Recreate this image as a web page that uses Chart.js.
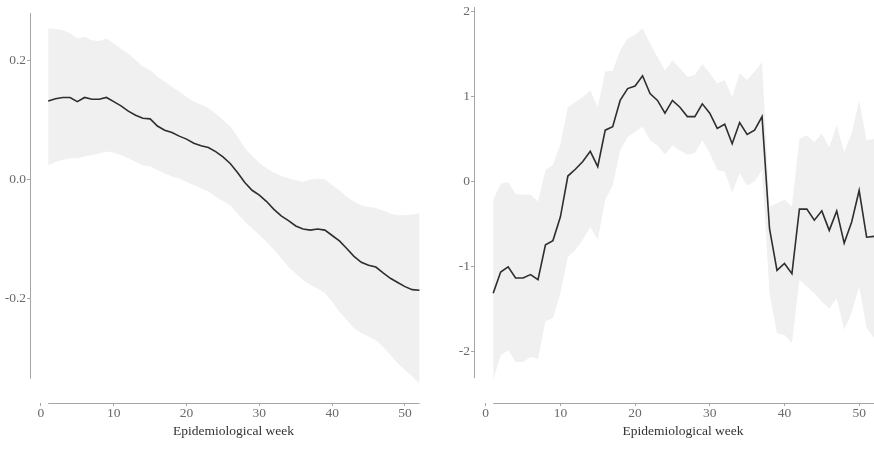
<!DOCTYPE html>
<html><head><meta charset="utf-8">
<script src="https://cdn.jsdelivr.net/npm/chart.js@4"></script>
<style>
html,body{margin:0;padding:0;width:874px;height:450px;overflow:hidden;background:#fff;}
#c1{position:absolute;left:0;top:0;width:437px;height:450px;}
#c2{position:absolute;left:437px;top:0;width:455px;height:450px;}
</style></head><body>
<canvas id="c1" width="437" height="450"></canvas>
<canvas id="c2" width="455" height="450"></canvas>
<script>
const weeks = Array.from({length:52},(_,i)=>i+1);
const xTicks = [0,10,20,30,40,50];
const xTitle = 'Epidemiological week';

const leftMean = [0.132,0.136,0.138,0.138,0.131,0.138,0.135,0.135,0.138,0.131,
  0.124,0.115,0.108,0.103,0.102,0.090,0.083,0.079,0.073,0.068,
  0.061,0.057,0.054,0.047,0.038,0.027,0.012,-0.005,-0.018,-0.026,
  -0.037,-0.050,-0.061,-0.069,-0.078,-0.083,-0.085,-0.083,-0.085,-0.094,
  -0.103,-0.116,-0.129,-0.139,-0.144,-0.147,-0.157,-0.166,-0.173,-0.180,
  -0.185,-0.186];
const leftUpper = [0.254,0.253,0.251,0.246,0.237,0.240,0.234,0.233,0.237,0.229,
  0.220,0.212,0.201,0.190,0.184,0.173,0.165,0.156,0.148,0.139,
  0.131,0.126,0.120,0.111,0.100,0.089,0.072,0.053,0.040,0.028,
  0.019,0.012,0.006,0.002,-0.001,-0.004,0.000,0.002,0.000,-0.009,
  -0.018,-0.029,-0.037,-0.043,-0.046,-0.048,-0.052,-0.057,-0.060,-0.060,
  -0.059,-0.056];
const leftLower = [0.024,0.030,0.033,0.036,0.036,0.039,0.041,0.044,0.047,0.045,
  0.041,0.036,0.030,0.024,0.022,0.016,0.010,0.005,0.002,-0.004,
  -0.009,-0.015,-0.020,-0.029,-0.036,-0.043,-0.057,-0.071,-0.082,-0.093,
  -0.105,-0.118,-0.132,-0.147,-0.158,-0.169,-0.177,-0.183,-0.191,-0.205,
  -0.222,-0.236,-0.250,-0.258,-0.264,-0.270,-0.281,-0.295,-0.309,-0.320,
  -0.331,-0.343];
const leftYTicks = [-0.2,0,0.2];

const rightMean = [-1.32,-1.07,-1.01,-1.14,-1.14,-1.10,-1.16,-0.75,-0.70,-0.42,
  0.06,0.14,0.23,0.35,0.17,0.60,0.64,0.95,1.09,1.12,
  1.24,1.03,0.95,0.80,0.95,0.87,0.76,0.76,0.91,0.80,
  0.62,0.67,0.44,0.69,0.55,0.60,0.76,-0.56,-1.05,-0.97,
  -1.09,-0.33,-0.33,-0.46,-0.35,-0.58,-0.35,-0.73,-0.48,-0.11,
  -0.66,-0.65];
const rightUpper = [-0.22,-0.03,-0.01,-0.15,-0.16,-0.16,-0.24,0.13,0.19,0.44,
  0.87,0.93,0.99,1.07,0.87,1.29,1.30,1.54,1.68,1.72,
  1.80,1.62,1.46,1.30,1.42,1.33,1.23,1.25,1.38,1.27,
  1.15,1.19,0.99,1.27,1.19,1.29,1.40,-0.30,-0.26,-0.22,
  -0.30,0.50,0.54,0.46,0.56,0.40,0.66,0.34,0.56,0.95,
  0.48,0.50];
const rightLower = [-2.34,-2.05,-1.99,-2.13,-2.13,-2.07,-2.09,-1.65,-1.61,-1.32,
  -0.89,-0.81,-0.69,-0.54,-0.69,-0.22,-0.05,0.36,0.52,0.58,
  0.64,0.48,0.42,0.31,0.42,0.36,0.31,0.33,0.48,0.33,
  0.13,0.11,-0.13,0.09,-0.05,0.00,0.13,-1.32,-1.79,-1.81,
  -1.91,-1.16,-1.24,-1.32,-1.42,-1.50,-1.38,-1.75,-1.55,-1.24,
  -1.73,-1.85];
const rightYTicks = [-2,-1,0,1,2];

const AXIS = '#a6a6a6';
const TICK_TXT = '#6a6a6a';
const TITLE_TXT = '#333333';
const BAND = '#f0f0f1';
const LINE = '#2e2e2e';
const FONT = 'Liberation Serif, Times New Roman, serif';

function pts(arr){ return weeks.map((w,i)=>({x:w,y:arr[i]})); }

function axisLines(yTop, yBottom){
  return {
    id:'axisLines',
    afterDraw(chart){
      const {ctx, chartArea, scales:{x,y}} = chart;
      ctx.save();
      ctx.strokeStyle = AXIS; ctx.lineWidth = 1;
      ctx.beginPath();
      const ax = Math.round(chartArea.left)+0.5;
      ctx.moveTo(ax, y.getPixelForValue(yTop));
      ctx.lineTo(ax, y.getPixelForValue(yBottom));
      const ay = Math.round(chartArea.bottom)+0.5;
      ctx.moveTo(x.getPixelForValue(weeks[0]), ay);
      ctx.lineTo(x.getPixelForValue(weeks[weeks.length-1]), ay);
      ctx.stroke();
      ctx.restore();
    }
  };
}

function makeChart(id, mean, upper, lower, cfg){
  return new Chart(document.getElementById(id), {
    type:'line',
    data:{datasets:[
      {data:pts(mean), borderColor:LINE, borderWidth:1.6, pointRadius:0, fill:false, tension:0},
      {data:pts(upper), borderWidth:0, borderColor:'rgba(0,0,0,0)', backgroundColor:BAND, pointRadius:0, fill:'+1', tension:0},
      {data:pts(lower), borderWidth:0, borderColor:'rgba(0,0,0,0)', backgroundColor:BAND, pointRadius:0, fill:false, tension:0}
    ]},
    options:{
      responsive:false, animation:false, devicePixelRatio:1,
      layout:{padding:{top:cfg.top,left:0,right:0,bottom:0}},
      plugins:{legend:{display:false}, tooltip:{enabled:false}},
      scales:{
        x:{type:'linear', min:cfg.xmin, max:cfg.xmax,
          border:{display:false},
          grid:{display:true, drawOnChartArea:false, drawTicks:true, tickLength:3, color:AXIS},
          ticks:{color:TICK_TXT, font:{family:FONT, size:13.5}, padding:-1, maxRotation:0},
          afterBuildTicks(s){ s.ticks = xTicks.map(v=>({value:v})); },
          afterFit(s){ s.height = 47; s.paddingLeft=0; s.paddingRight=0; },
          title:{display:true, text:xTitle, color:TITLE_TXT, font:{family:FONT, size:13.5}, padding:{top:0,bottom:10}}
        },
        y:{type:'linear', min:cfg.ymin, max:cfg.ymax,
          border:{display:false},
          grid:{display:true, drawOnChartArea:false, drawTicks:true, tickLength:3, color:AXIS},
          ticks:{color:TICK_TXT, font:{family:FONT, size:13.5}, padding:1, callback:cfg.fmt},
          afterBuildTicks(s){ s.ticks = cfg.yticks.map(v=>({value:v})); },
          afterFit(s){ s.width = cfg.yw; s.paddingTop=0; s.paddingBottom=0; }
        }
      }
    },
    plugins:[axisLines(cfg.lineTop, cfg.lineBottom)]
  });
}

makeChart('c1', leftMean, leftUpper, leftLower, {
  top:13, xmin:-1.5, xmax:54.4, ymin:-0.3756, ymax:0.28, yw:30,
  yticks:leftYTicks, fmt:v=>v.toFixed(1), lineTop:0.28, lineBottom:-0.335
});
makeChart('c2', rightMean, rightUpper, rightLower, {
  top:7, xmin:-1.57, xmax:54.4, ymin:-2.612, ymax:2.05, yw:37,
  yticks:rightYTicks, fmt:v=>String(v), lineTop:2.05, lineBottom:-2.32
});
</script>
</body></html>
